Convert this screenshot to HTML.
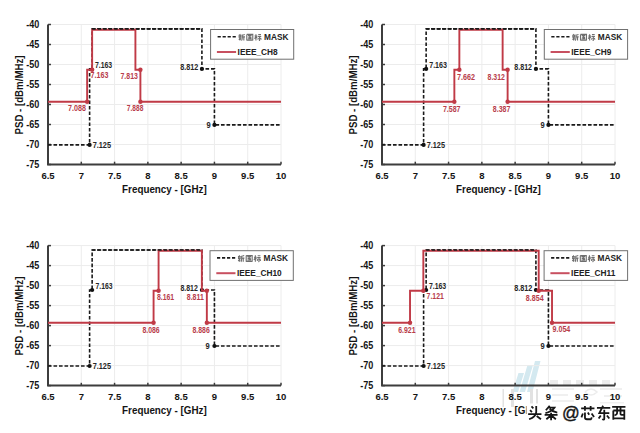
<!DOCTYPE html><html><head><meta charset="utf-8"><style>html,body{margin:0;padding:0;background:#fff;width:640px;height:433px;overflow:hidden}svg{display:block}text{font-family:"Liberation Sans", sans-serif}</style></head><body>
<svg width="640" height="433" viewBox="0 0 640 433">
<rect width="640" height="433" fill="#fff"/>
<g>
<path d="M512.5 392 L518 392 L524 373 L518.5 373Z M519.5 392 L525 392 L533 365 L527.5 365Z M527 392 L532.5 392 L540.5 361 L535 361Z" fill="#d4e9f0"/>
<path d="M502.5 389 H504 V407 H502.5Z M511 389 H514 V407 H511Z M530 389 H533 V407 H530Z M536 389 H538 V407 H536Z" fill="#e2e2e2"/>
<path d="M550 380 h8 v5 h-8z M563 380 h8 v5 h-8z M576 380 h8 v5 h-8z M589 380 h8 v5 h-8z M602 380 h8 v5 h-8z" fill="#ececec"/>
<path d="M552 389 h22 M552 395 h16 M552 401 h22 M585 392 q6 -6 12 0 q-6 6 -12 0 M600 389 h22 M604 396 h18 M600 403 h24" fill="none" stroke="#ececec" stroke-width="1.6"/>
</g>
<line x1="81.29" y1="24.5" x2="81.29" y2="164.5" stroke="#ececec" stroke-width="1"/>
<line x1="114.57" y1="24.5" x2="114.57" y2="164.5" stroke="#ececec" stroke-width="1"/>
<line x1="147.86" y1="24.5" x2="147.86" y2="164.5" stroke="#ececec" stroke-width="1"/>
<line x1="181.14" y1="24.5" x2="181.14" y2="164.5" stroke="#ececec" stroke-width="1"/>
<line x1="214.43" y1="24.5" x2="214.43" y2="164.5" stroke="#ececec" stroke-width="1"/>
<line x1="247.71" y1="24.5" x2="247.71" y2="164.5" stroke="#ececec" stroke-width="1"/>
<line x1="281" y1="24.5" x2="281" y2="164.5" stroke="#ececec" stroke-width="1"/>
<line x1="48" y1="24.5" x2="281" y2="24.5" stroke="#ececec" stroke-width="1"/>
<line x1="48" y1="44.5" x2="281" y2="44.5" stroke="#ececec" stroke-width="1"/>
<line x1="48" y1="64.5" x2="281" y2="64.5" stroke="#ececec" stroke-width="1"/>
<line x1="48" y1="84.5" x2="281" y2="84.5" stroke="#ececec" stroke-width="1"/>
<line x1="48" y1="104.5" x2="281" y2="104.5" stroke="#ececec" stroke-width="1"/>
<line x1="48" y1="124.5" x2="281" y2="124.5" stroke="#ececec" stroke-width="1"/>
<line x1="48" y1="144.5" x2="281" y2="144.5" stroke="#ececec" stroke-width="1"/>
<path d="M48 24.5 V164.5 H281" fill="none" stroke="#3d3d3d" stroke-width="2"/>
<line x1="48" y1="164.5" x2="48" y2="161.7" stroke="#3d3d3d" stroke-width="1.5"/>
<line x1="48" y1="24.5" x2="51" y2="24.5" stroke="#3d3d3d" stroke-width="1.5"/>
<line x1="81.29" y1="164.5" x2="81.29" y2="161.7" stroke="#3d3d3d" stroke-width="1.5"/>
<line x1="48" y1="44.5" x2="51" y2="44.5" stroke="#3d3d3d" stroke-width="1.5"/>
<line x1="114.57" y1="164.5" x2="114.57" y2="161.7" stroke="#3d3d3d" stroke-width="1.5"/>
<line x1="48" y1="64.5" x2="51" y2="64.5" stroke="#3d3d3d" stroke-width="1.5"/>
<line x1="147.86" y1="164.5" x2="147.86" y2="161.7" stroke="#3d3d3d" stroke-width="1.5"/>
<line x1="48" y1="84.5" x2="51" y2="84.5" stroke="#3d3d3d" stroke-width="1.5"/>
<line x1="181.14" y1="164.5" x2="181.14" y2="161.7" stroke="#3d3d3d" stroke-width="1.5"/>
<line x1="48" y1="104.5" x2="51" y2="104.5" stroke="#3d3d3d" stroke-width="1.5"/>
<line x1="214.43" y1="164.5" x2="214.43" y2="161.7" stroke="#3d3d3d" stroke-width="1.5"/>
<line x1="48" y1="124.5" x2="51" y2="124.5" stroke="#3d3d3d" stroke-width="1.5"/>
<line x1="247.71" y1="164.5" x2="247.71" y2="161.7" stroke="#3d3d3d" stroke-width="1.5"/>
<line x1="48" y1="144.5" x2="51" y2="144.5" stroke="#3d3d3d" stroke-width="1.5"/>
<line x1="281" y1="164.5" x2="281" y2="161.7" stroke="#3d3d3d" stroke-width="1.5"/>
<line x1="48" y1="164.5" x2="51" y2="164.5" stroke="#3d3d3d" stroke-width="1.5"/>
<text x="26.2" y="28" font-size="10.2" font-weight="bold" fill="#141414" textLength="13.1" lengthAdjust="spacingAndGlyphs">-40</text>
<text x="48" y="179.3" font-size="9.5" font-weight="bold" fill="#141414" text-anchor="middle">6.5</text>
<text x="26.2" y="48" font-size="10.2" font-weight="bold" fill="#141414" textLength="13.1" lengthAdjust="spacingAndGlyphs">-45</text>
<text x="81.29" y="179.3" font-size="9.5" font-weight="bold" fill="#141414" text-anchor="middle">7</text>
<text x="26.2" y="68" font-size="10.2" font-weight="bold" fill="#141414" textLength="13.1" lengthAdjust="spacingAndGlyphs">-50</text>
<text x="114.57" y="179.3" font-size="9.5" font-weight="bold" fill="#141414" text-anchor="middle">7.5</text>
<text x="26.2" y="88" font-size="10.2" font-weight="bold" fill="#141414" textLength="13.1" lengthAdjust="spacingAndGlyphs">-55</text>
<text x="147.86" y="179.3" font-size="9.5" font-weight="bold" fill="#141414" text-anchor="middle">8</text>
<text x="26.2" y="108" font-size="10.2" font-weight="bold" fill="#141414" textLength="13.1" lengthAdjust="spacingAndGlyphs">-60</text>
<text x="181.14" y="179.3" font-size="9.5" font-weight="bold" fill="#141414" text-anchor="middle">8.5</text>
<text x="26.2" y="128" font-size="10.2" font-weight="bold" fill="#141414" textLength="13.1" lengthAdjust="spacingAndGlyphs">-65</text>
<text x="214.43" y="179.3" font-size="9.5" font-weight="bold" fill="#141414" text-anchor="middle">9</text>
<text x="26.2" y="148" font-size="10.2" font-weight="bold" fill="#141414" textLength="13.1" lengthAdjust="spacingAndGlyphs">-70</text>
<text x="247.71" y="179.3" font-size="9.5" font-weight="bold" fill="#141414" text-anchor="middle">9.5</text>
<text x="26.2" y="168" font-size="10.2" font-weight="bold" fill="#141414" textLength="13.1" lengthAdjust="spacingAndGlyphs">-75</text>
<text x="281" y="179.3" font-size="9.5" font-weight="bold" fill="#141414" text-anchor="middle">10</text>
<text x="122.1" y="193.2" font-size="10.4" font-weight="bold" fill="#141414" textLength="84.6" lengthAdjust="spacingAndGlyphs">Frequency - [GHz]</text>
<text transform="translate(23 134.5) rotate(-90)" font-size="10.4" font-weight="bold" fill="#141414" textLength="79" lengthAdjust="spacingAndGlyphs">PSD - [dBm/MHz]</text>
<polyline points="48,144.9 89.61,144.9 89.61,68.9 92.14,68.9 92.14,28.9 201.91,28.9 201.91,68.9 214.43,68.9 214.43,124.9 281,124.9" fill="none" stroke="#1a1a1a" stroke-width="1.6" stroke-dasharray="3.6 1.9"/>
<circle cx="89.61" cy="144.9" r="2.1" fill="#111"/>
<circle cx="201.91" cy="68.9" r="2.1" fill="#111"/>
<circle cx="214.43" cy="124.9" r="2.1" fill="#111"/>
<polyline points="48,101.7 87.14,101.7 87.14,69.7 92.14,69.7 92.14,29.7 135.41,29.7 135.41,69.7 140.4,69.7 140.4,101.7 281,101.7" fill="none" stroke="#c03a46" stroke-width="1.9" stroke-linejoin="miter"/>
<circle cx="87.14" cy="101.7" r="2.2" fill="#c03a46"/>
<circle cx="92.14" cy="69.7" r="2.2" fill="#c03a46"/>
<circle cx="140.4" cy="69.7" r="2.2" fill="#c03a46"/>
<circle cx="140.4" cy="101.7" r="2.2" fill="#c03a46"/>
<line x1="92.14" y1="28.9" x2="201.91" y2="28.9" stroke="#1a1a1a" stroke-width="1.6" stroke-dasharray="3.6 1.9"/>
<text x="90.6" y="78.4" font-size="8.6" font-weight="bold" fill="#b83c4a" textLength="17.8" lengthAdjust="spacingAndGlyphs">7.163</text>
<text x="120.5" y="78.6" font-size="8.6" font-weight="bold" fill="#b83c4a" textLength="17.4" lengthAdjust="spacingAndGlyphs">7.813</text>
<text x="68.1" y="110.9" font-size="8.6" font-weight="bold" fill="#b83c4a" textLength="17.9" lengthAdjust="spacingAndGlyphs">7.088</text>
<text x="126.8" y="110.7" font-size="8.6" font-weight="bold" fill="#b83c4a" textLength="16.6" lengthAdjust="spacingAndGlyphs">7.888</text>
<text x="95" y="67.7" font-size="8.6" font-weight="bold" fill="#262626" textLength="17.2" lengthAdjust="spacingAndGlyphs">7.163</text>
<text x="180.2" y="70.1" font-size="8.6" font-weight="bold" fill="#262626" textLength="18" lengthAdjust="spacingAndGlyphs">8.812</text>
<text x="206.5" y="128.1" font-size="8.6" font-weight="bold" fill="#262626" textLength="4.2" lengthAdjust="spacingAndGlyphs">9</text>
<text x="92.7" y="147.9" font-size="8.6" font-weight="bold" fill="#262626" textLength="18.3" lengthAdjust="spacingAndGlyphs">7.125</text>
<rect x="210.6" y="29.5" width="83.1" height="29.7" fill="#fff" stroke="#707070" stroke-width="1"/>
<line x1="217.6" y1="36.7" x2="237.1" y2="36.7" stroke="#1a1a1a" stroke-width="1.6" stroke-dasharray="3.2 1.8"/>
<path transform="translate(238.1 33.7) scale(0.46)" d="M3.5 1L4.5 2.5M1 3.5H7M2 4.5L2.8 6.5M6 4.5L5.2 6.5M1 7.5H7M4 7.5V15M4 10L1.5 13M4 10L6.5 12M14.5 1.5Q11 3 9 3V9Q9 13 7.5 15M9 7H15M12.5 7V15" fill="none" stroke="#6e6e6e" stroke-width="2.41" stroke-linecap="butt" stroke-linejoin="miter"/>
<path transform="translate(246.1 33.7) scale(0.46)" d="M1.5 1.5V15M1.5 1.5H14.5V15M1.5 14H14.5M4 4H12M4.5 7.5H11.5M4 11H12M8 4V11M10 8.5L11 10" fill="none" stroke="#6e6e6e" stroke-width="2.41" stroke-linecap="butt" stroke-linejoin="miter"/>
<path transform="translate(254.1 33.7) scale(0.46)" d="M1 5H7M4 1V15M4 6L1 11M4.5 7L6.5 9M9 2H15M8 6H15.5M12 6V14Q12 15 10.5 14.5M9.5 9L8 13M14 9L15.5 13" fill="none" stroke="#6e6e6e" stroke-width="2.41" stroke-linecap="butt" stroke-linejoin="miter"/>
<text x="264.1" y="39.6" font-size="8.3" font-weight="bold" fill="#222">MASK</text>
<line x1="216.9" y1="52" x2="236.1" y2="52" stroke="#c85060" stroke-width="2"/>
<text x="237.6" y="55.1" font-size="8.3" font-weight="bold" fill="#222">IEEE_CH8</text>
<line x1="415.29" y1="24.5" x2="415.29" y2="164.5" stroke="#ececec" stroke-width="1"/>
<line x1="448.57" y1="24.5" x2="448.57" y2="164.5" stroke="#ececec" stroke-width="1"/>
<line x1="481.86" y1="24.5" x2="481.86" y2="164.5" stroke="#ececec" stroke-width="1"/>
<line x1="515.14" y1="24.5" x2="515.14" y2="164.5" stroke="#ececec" stroke-width="1"/>
<line x1="548.43" y1="24.5" x2="548.43" y2="164.5" stroke="#ececec" stroke-width="1"/>
<line x1="581.71" y1="24.5" x2="581.71" y2="164.5" stroke="#ececec" stroke-width="1"/>
<line x1="615" y1="24.5" x2="615" y2="164.5" stroke="#ececec" stroke-width="1"/>
<line x1="382" y1="24.5" x2="615" y2="24.5" stroke="#ececec" stroke-width="1"/>
<line x1="382" y1="44.5" x2="615" y2="44.5" stroke="#ececec" stroke-width="1"/>
<line x1="382" y1="64.5" x2="615" y2="64.5" stroke="#ececec" stroke-width="1"/>
<line x1="382" y1="84.5" x2="615" y2="84.5" stroke="#ececec" stroke-width="1"/>
<line x1="382" y1="104.5" x2="615" y2="104.5" stroke="#ececec" stroke-width="1"/>
<line x1="382" y1="124.5" x2="615" y2="124.5" stroke="#ececec" stroke-width="1"/>
<line x1="382" y1="144.5" x2="615" y2="144.5" stroke="#ececec" stroke-width="1"/>
<path d="M382 24.5 V164.5 H615" fill="none" stroke="#3d3d3d" stroke-width="2"/>
<line x1="382" y1="164.5" x2="382" y2="161.7" stroke="#3d3d3d" stroke-width="1.5"/>
<line x1="382" y1="24.5" x2="385" y2="24.5" stroke="#3d3d3d" stroke-width="1.5"/>
<line x1="415.29" y1="164.5" x2="415.29" y2="161.7" stroke="#3d3d3d" stroke-width="1.5"/>
<line x1="382" y1="44.5" x2="385" y2="44.5" stroke="#3d3d3d" stroke-width="1.5"/>
<line x1="448.57" y1="164.5" x2="448.57" y2="161.7" stroke="#3d3d3d" stroke-width="1.5"/>
<line x1="382" y1="64.5" x2="385" y2="64.5" stroke="#3d3d3d" stroke-width="1.5"/>
<line x1="481.86" y1="164.5" x2="481.86" y2="161.7" stroke="#3d3d3d" stroke-width="1.5"/>
<line x1="382" y1="84.5" x2="385" y2="84.5" stroke="#3d3d3d" stroke-width="1.5"/>
<line x1="515.14" y1="164.5" x2="515.14" y2="161.7" stroke="#3d3d3d" stroke-width="1.5"/>
<line x1="382" y1="104.5" x2="385" y2="104.5" stroke="#3d3d3d" stroke-width="1.5"/>
<line x1="548.43" y1="164.5" x2="548.43" y2="161.7" stroke="#3d3d3d" stroke-width="1.5"/>
<line x1="382" y1="124.5" x2="385" y2="124.5" stroke="#3d3d3d" stroke-width="1.5"/>
<line x1="581.71" y1="164.5" x2="581.71" y2="161.7" stroke="#3d3d3d" stroke-width="1.5"/>
<line x1="382" y1="144.5" x2="385" y2="144.5" stroke="#3d3d3d" stroke-width="1.5"/>
<line x1="615" y1="164.5" x2="615" y2="161.7" stroke="#3d3d3d" stroke-width="1.5"/>
<line x1="382" y1="164.5" x2="385" y2="164.5" stroke="#3d3d3d" stroke-width="1.5"/>
<text x="360.2" y="28" font-size="10.2" font-weight="bold" fill="#141414" textLength="13.1" lengthAdjust="spacingAndGlyphs">-40</text>
<text x="382" y="179.3" font-size="9.5" font-weight="bold" fill="#141414" text-anchor="middle">6.5</text>
<text x="360.2" y="48" font-size="10.2" font-weight="bold" fill="#141414" textLength="13.1" lengthAdjust="spacingAndGlyphs">-45</text>
<text x="415.29" y="179.3" font-size="9.5" font-weight="bold" fill="#141414" text-anchor="middle">7</text>
<text x="360.2" y="68" font-size="10.2" font-weight="bold" fill="#141414" textLength="13.1" lengthAdjust="spacingAndGlyphs">-50</text>
<text x="448.57" y="179.3" font-size="9.5" font-weight="bold" fill="#141414" text-anchor="middle">7.5</text>
<text x="360.2" y="88" font-size="10.2" font-weight="bold" fill="#141414" textLength="13.1" lengthAdjust="spacingAndGlyphs">-55</text>
<text x="481.86" y="179.3" font-size="9.5" font-weight="bold" fill="#141414" text-anchor="middle">8</text>
<text x="360.2" y="108" font-size="10.2" font-weight="bold" fill="#141414" textLength="13.1" lengthAdjust="spacingAndGlyphs">-60</text>
<text x="515.14" y="179.3" font-size="9.5" font-weight="bold" fill="#141414" text-anchor="middle">8.5</text>
<text x="360.2" y="128" font-size="10.2" font-weight="bold" fill="#141414" textLength="13.1" lengthAdjust="spacingAndGlyphs">-65</text>
<text x="548.43" y="179.3" font-size="9.5" font-weight="bold" fill="#141414" text-anchor="middle">9</text>
<text x="360.2" y="148" font-size="10.2" font-weight="bold" fill="#141414" textLength="13.1" lengthAdjust="spacingAndGlyphs">-70</text>
<text x="581.71" y="179.3" font-size="9.5" font-weight="bold" fill="#141414" text-anchor="middle">9.5</text>
<text x="360.2" y="168" font-size="10.2" font-weight="bold" fill="#141414" textLength="13.1" lengthAdjust="spacingAndGlyphs">-75</text>
<text x="615" y="179.3" font-size="9.5" font-weight="bold" fill="#141414" text-anchor="middle">10</text>
<text x="456.1" y="193.2" font-size="10.4" font-weight="bold" fill="#141414" textLength="84.6" lengthAdjust="spacingAndGlyphs">Frequency - [GHz]</text>
<text transform="translate(357 134.5) rotate(-90)" font-size="10.4" font-weight="bold" fill="#141414" textLength="79" lengthAdjust="spacingAndGlyphs">PSD - [dBm/MHz]</text>
<polyline points="382,144.9 423.61,144.9 423.61,68.9 426.14,68.9 426.14,28.9 535.91,28.9 535.91,68.9 548.43,68.9 548.43,124.9 615,124.9" fill="none" stroke="#1a1a1a" stroke-width="1.6" stroke-dasharray="3.6 1.9"/>
<circle cx="423.61" cy="144.9" r="2.1" fill="#111"/>
<circle cx="426.14" cy="68.9" r="2.1" fill="#111"/>
<circle cx="535.91" cy="68.9" r="2.1" fill="#111"/>
<circle cx="548.43" cy="124.9" r="2.1" fill="#111"/>
<polyline points="382,101.7 454.36,101.7 454.36,69.7 459.36,69.7 459.36,29.7 502.63,29.7 502.63,69.7 507.62,69.7 507.62,101.7 615,101.7" fill="none" stroke="#c03a46" stroke-width="1.9" stroke-linejoin="miter"/>
<circle cx="454.36" cy="101.7" r="2.2" fill="#c03a46"/>
<circle cx="459.36" cy="69.7" r="2.2" fill="#c03a46"/>
<circle cx="507.62" cy="69.7" r="2.2" fill="#c03a46"/>
<circle cx="507.62" cy="101.7" r="2.2" fill="#c03a46"/>
<line x1="426.14" y1="28.9" x2="535.91" y2="28.9" stroke="#1a1a1a" stroke-width="1.6" stroke-dasharray="3.6 1.9"/>
<text x="457" y="79.5" font-size="8.6" font-weight="bold" fill="#b83c4a" textLength="18" lengthAdjust="spacingAndGlyphs">7.662</text>
<text x="487.6" y="79.5" font-size="8.6" font-weight="bold" fill="#b83c4a" textLength="17.3" lengthAdjust="spacingAndGlyphs">8.312</text>
<text x="442.9" y="111.6" font-size="8.6" font-weight="bold" fill="#b83c4a" textLength="17.6" lengthAdjust="spacingAndGlyphs">7.587</text>
<text x="492.8" y="111.6" font-size="8.6" font-weight="bold" fill="#b83c4a" textLength="17.5" lengthAdjust="spacingAndGlyphs">8.387</text>
<text x="429.2" y="68.1" font-size="8.6" font-weight="bold" fill="#262626" textLength="17.8" lengthAdjust="spacingAndGlyphs">7.163</text>
<text x="514.3" y="70.1" font-size="8.6" font-weight="bold" fill="#262626" textLength="17.7" lengthAdjust="spacingAndGlyphs">8.812</text>
<text x="540.5" y="128.1" font-size="8.6" font-weight="bold" fill="#262626" textLength="4.2" lengthAdjust="spacingAndGlyphs">9</text>
<text x="426.7" y="147.9" font-size="8.6" font-weight="bold" fill="#262626" textLength="18.3" lengthAdjust="spacingAndGlyphs">7.125</text>
<rect x="544.3" y="29.5" width="83.3" height="29.7" fill="#fff" stroke="#707070" stroke-width="1"/>
<line x1="551.3" y1="36.7" x2="570.8" y2="36.7" stroke="#1a1a1a" stroke-width="1.6" stroke-dasharray="3.2 1.8"/>
<path transform="translate(571.8 33.7) scale(0.46)" d="M3.5 1L4.5 2.5M1 3.5H7M2 4.5L2.8 6.5M6 4.5L5.2 6.5M1 7.5H7M4 7.5V15M4 10L1.5 13M4 10L6.5 12M14.5 1.5Q11 3 9 3V9Q9 13 7.5 15M9 7H15M12.5 7V15" fill="none" stroke="#6e6e6e" stroke-width="2.41" stroke-linecap="butt" stroke-linejoin="miter"/>
<path transform="translate(579.8 33.7) scale(0.46)" d="M1.5 1.5V15M1.5 1.5H14.5V15M1.5 14H14.5M4 4H12M4.5 7.5H11.5M4 11H12M8 4V11M10 8.5L11 10" fill="none" stroke="#6e6e6e" stroke-width="2.41" stroke-linecap="butt" stroke-linejoin="miter"/>
<path transform="translate(587.8 33.7) scale(0.46)" d="M1 5H7M4 1V15M4 6L1 11M4.5 7L6.5 9M9 2H15M8 6H15.5M12 6V14Q12 15 10.5 14.5M9.5 9L8 13M14 9L15.5 13" fill="none" stroke="#6e6e6e" stroke-width="2.41" stroke-linecap="butt" stroke-linejoin="miter"/>
<text x="597.8" y="39.6" font-size="8.3" font-weight="bold" fill="#222">MASK</text>
<line x1="550.6" y1="52" x2="569.8" y2="52" stroke="#c85060" stroke-width="2"/>
<text x="571.3" y="55.1" font-size="8.3" font-weight="bold" fill="#222">IEEE_CH9</text>
<line x1="81.29" y1="245.6" x2="81.29" y2="385.6" stroke="#ececec" stroke-width="1"/>
<line x1="114.57" y1="245.6" x2="114.57" y2="385.6" stroke="#ececec" stroke-width="1"/>
<line x1="147.86" y1="245.6" x2="147.86" y2="385.6" stroke="#ececec" stroke-width="1"/>
<line x1="181.14" y1="245.6" x2="181.14" y2="385.6" stroke="#ececec" stroke-width="1"/>
<line x1="214.43" y1="245.6" x2="214.43" y2="385.6" stroke="#ececec" stroke-width="1"/>
<line x1="247.71" y1="245.6" x2="247.71" y2="385.6" stroke="#ececec" stroke-width="1"/>
<line x1="281" y1="245.6" x2="281" y2="385.6" stroke="#ececec" stroke-width="1"/>
<line x1="48" y1="245.6" x2="281" y2="245.6" stroke="#ececec" stroke-width="1"/>
<line x1="48" y1="265.6" x2="281" y2="265.6" stroke="#ececec" stroke-width="1"/>
<line x1="48" y1="285.6" x2="281" y2="285.6" stroke="#ececec" stroke-width="1"/>
<line x1="48" y1="305.6" x2="281" y2="305.6" stroke="#ececec" stroke-width="1"/>
<line x1="48" y1="325.6" x2="281" y2="325.6" stroke="#ececec" stroke-width="1"/>
<line x1="48" y1="345.6" x2="281" y2="345.6" stroke="#ececec" stroke-width="1"/>
<line x1="48" y1="365.6" x2="281" y2="365.6" stroke="#ececec" stroke-width="1"/>
<path d="M48 245.6 V385.6 H281" fill="none" stroke="#3d3d3d" stroke-width="2"/>
<line x1="48" y1="385.6" x2="48" y2="382.8" stroke="#3d3d3d" stroke-width="1.5"/>
<line x1="48" y1="245.6" x2="51" y2="245.6" stroke="#3d3d3d" stroke-width="1.5"/>
<line x1="81.29" y1="385.6" x2="81.29" y2="382.8" stroke="#3d3d3d" stroke-width="1.5"/>
<line x1="48" y1="265.6" x2="51" y2="265.6" stroke="#3d3d3d" stroke-width="1.5"/>
<line x1="114.57" y1="385.6" x2="114.57" y2="382.8" stroke="#3d3d3d" stroke-width="1.5"/>
<line x1="48" y1="285.6" x2="51" y2="285.6" stroke="#3d3d3d" stroke-width="1.5"/>
<line x1="147.86" y1="385.6" x2="147.86" y2="382.8" stroke="#3d3d3d" stroke-width="1.5"/>
<line x1="48" y1="305.6" x2="51" y2="305.6" stroke="#3d3d3d" stroke-width="1.5"/>
<line x1="181.14" y1="385.6" x2="181.14" y2="382.8" stroke="#3d3d3d" stroke-width="1.5"/>
<line x1="48" y1="325.6" x2="51" y2="325.6" stroke="#3d3d3d" stroke-width="1.5"/>
<line x1="214.43" y1="385.6" x2="214.43" y2="382.8" stroke="#3d3d3d" stroke-width="1.5"/>
<line x1="48" y1="345.6" x2="51" y2="345.6" stroke="#3d3d3d" stroke-width="1.5"/>
<line x1="247.71" y1="385.6" x2="247.71" y2="382.8" stroke="#3d3d3d" stroke-width="1.5"/>
<line x1="48" y1="365.6" x2="51" y2="365.6" stroke="#3d3d3d" stroke-width="1.5"/>
<line x1="281" y1="385.6" x2="281" y2="382.8" stroke="#3d3d3d" stroke-width="1.5"/>
<line x1="48" y1="385.6" x2="51" y2="385.6" stroke="#3d3d3d" stroke-width="1.5"/>
<text x="26.2" y="249.1" font-size="10.2" font-weight="bold" fill="#141414" textLength="13.1" lengthAdjust="spacingAndGlyphs">-40</text>
<text x="48" y="400.4" font-size="9.5" font-weight="bold" fill="#141414" text-anchor="middle">6.5</text>
<text x="26.2" y="269.1" font-size="10.2" font-weight="bold" fill="#141414" textLength="13.1" lengthAdjust="spacingAndGlyphs">-45</text>
<text x="81.29" y="400.4" font-size="9.5" font-weight="bold" fill="#141414" text-anchor="middle">7</text>
<text x="26.2" y="289.1" font-size="10.2" font-weight="bold" fill="#141414" textLength="13.1" lengthAdjust="spacingAndGlyphs">-50</text>
<text x="114.57" y="400.4" font-size="9.5" font-weight="bold" fill="#141414" text-anchor="middle">7.5</text>
<text x="26.2" y="309.1" font-size="10.2" font-weight="bold" fill="#141414" textLength="13.1" lengthAdjust="spacingAndGlyphs">-55</text>
<text x="147.86" y="400.4" font-size="9.5" font-weight="bold" fill="#141414" text-anchor="middle">8</text>
<text x="26.2" y="329.1" font-size="10.2" font-weight="bold" fill="#141414" textLength="13.1" lengthAdjust="spacingAndGlyphs">-60</text>
<text x="181.14" y="400.4" font-size="9.5" font-weight="bold" fill="#141414" text-anchor="middle">8.5</text>
<text x="26.2" y="349.1" font-size="10.2" font-weight="bold" fill="#141414" textLength="13.1" lengthAdjust="spacingAndGlyphs">-65</text>
<text x="214.43" y="400.4" font-size="9.5" font-weight="bold" fill="#141414" text-anchor="middle">9</text>
<text x="26.2" y="369.1" font-size="10.2" font-weight="bold" fill="#141414" textLength="13.1" lengthAdjust="spacingAndGlyphs">-70</text>
<text x="247.71" y="400.4" font-size="9.5" font-weight="bold" fill="#141414" text-anchor="middle">9.5</text>
<text x="26.2" y="389.1" font-size="10.2" font-weight="bold" fill="#141414" textLength="13.1" lengthAdjust="spacingAndGlyphs">-75</text>
<text x="281" y="400.4" font-size="9.5" font-weight="bold" fill="#141414" text-anchor="middle">10</text>
<text x="122.1" y="414.3" font-size="10.4" font-weight="bold" fill="#141414" textLength="84.6" lengthAdjust="spacingAndGlyphs">Frequency - [GHz]</text>
<text transform="translate(23 355.6) rotate(-90)" font-size="10.4" font-weight="bold" fill="#141414" textLength="79" lengthAdjust="spacingAndGlyphs">PSD - [dBm/MHz]</text>
<polyline points="48,366 89.61,366 89.61,290 92.14,290 92.14,250 201.91,250 201.91,290 214.43,290 214.43,346 281,346" fill="none" stroke="#1a1a1a" stroke-width="1.6" stroke-dasharray="3.6 1.9"/>
<circle cx="89.61" cy="366" r="2.1" fill="#111"/>
<circle cx="92.14" cy="290" r="2.1" fill="#111"/>
<circle cx="201.91" cy="290" r="2.1" fill="#111"/>
<circle cx="214.43" cy="346" r="2.1" fill="#111"/>
<polyline points="48,322.8 153.58,322.8 153.58,290.8 158.58,290.8 158.58,250.8 201.85,250.8 201.85,290.8 206.84,290.8 206.84,322.8 281,322.8" fill="none" stroke="#c03a46" stroke-width="1.9" stroke-linejoin="miter"/>
<circle cx="153.58" cy="322.8" r="2.2" fill="#c03a46"/>
<circle cx="158.58" cy="290.8" r="2.2" fill="#c03a46"/>
<circle cx="206.84" cy="290.8" r="2.2" fill="#c03a46"/>
<circle cx="206.84" cy="322.8" r="2.2" fill="#c03a46"/>
<line x1="92.14" y1="250" x2="201.91" y2="250" stroke="#1a1a1a" stroke-width="1.6" stroke-dasharray="3.6 1.9"/>
<text x="157" y="299.8" font-size="8.6" font-weight="bold" fill="#b83c4a" textLength="17.2" lengthAdjust="spacingAndGlyphs">8.161</text>
<text x="186.8" y="299.8" font-size="8.6" font-weight="bold" fill="#b83c4a" textLength="17" lengthAdjust="spacingAndGlyphs">8.811</text>
<text x="142.4" y="332.9" font-size="8.6" font-weight="bold" fill="#b83c4a" textLength="17.3" lengthAdjust="spacingAndGlyphs">8.086</text>
<text x="192.5" y="332.9" font-size="8.6" font-weight="bold" fill="#b83c4a" textLength="17.3" lengthAdjust="spacingAndGlyphs">8.886</text>
<text x="95.6" y="288.8" font-size="8.6" font-weight="bold" fill="#262626" textLength="17" lengthAdjust="spacingAndGlyphs">7.163</text>
<text x="180.4" y="290.5" font-size="8.6" font-weight="bold" fill="#262626" textLength="17.4" lengthAdjust="spacingAndGlyphs">8.812</text>
<text x="205.6" y="348.9" font-size="8.6" font-weight="bold" fill="#262626" textLength="4.2" lengthAdjust="spacingAndGlyphs">9</text>
<text x="92.7" y="369" font-size="8.6" font-weight="bold" fill="#262626" textLength="18.3" lengthAdjust="spacingAndGlyphs">7.125</text>
<rect x="210" y="250.7" width="83.3" height="29.7" fill="#fff" stroke="#707070" stroke-width="1"/>
<line x1="217" y1="257.9" x2="236.5" y2="257.9" stroke="#1a1a1a" stroke-width="1.6" stroke-dasharray="3.2 1.8"/>
<path transform="translate(237.5 254.9) scale(0.46)" d="M3.5 1L4.5 2.5M1 3.5H7M2 4.5L2.8 6.5M6 4.5L5.2 6.5M1 7.5H7M4 7.5V15M4 10L1.5 13M4 10L6.5 12M14.5 1.5Q11 3 9 3V9Q9 13 7.5 15M9 7H15M12.5 7V15" fill="none" stroke="#6e6e6e" stroke-width="2.41" stroke-linecap="butt" stroke-linejoin="miter"/>
<path transform="translate(245.5 254.9) scale(0.46)" d="M1.5 1.5V15M1.5 1.5H14.5V15M1.5 14H14.5M4 4H12M4.5 7.5H11.5M4 11H12M8 4V11M10 8.5L11 10" fill="none" stroke="#6e6e6e" stroke-width="2.41" stroke-linecap="butt" stroke-linejoin="miter"/>
<path transform="translate(253.5 254.9) scale(0.46)" d="M1 5H7M4 1V15M4 6L1 11M4.5 7L6.5 9M9 2H15M8 6H15.5M12 6V14Q12 15 10.5 14.5M9.5 9L8 13M14 9L15.5 13" fill="none" stroke="#6e6e6e" stroke-width="2.41" stroke-linecap="butt" stroke-linejoin="miter"/>
<text x="263.5" y="260.8" font-size="8.3" font-weight="bold" fill="#222">MASK</text>
<line x1="216.3" y1="273.2" x2="235.5" y2="273.2" stroke="#c85060" stroke-width="2"/>
<text x="237" y="276.3" font-size="8.3" font-weight="bold" fill="#222">IEEE_CH10</text>
<line x1="415.29" y1="245.6" x2="415.29" y2="385.6" stroke="#ececec" stroke-width="1"/>
<line x1="448.57" y1="245.6" x2="448.57" y2="385.6" stroke="#ececec" stroke-width="1"/>
<line x1="481.86" y1="245.6" x2="481.86" y2="385.6" stroke="#ececec" stroke-width="1"/>
<line x1="515.14" y1="245.6" x2="515.14" y2="385.6" stroke="#ececec" stroke-width="1"/>
<line x1="548.43" y1="245.6" x2="548.43" y2="385.6" stroke="#ececec" stroke-width="1"/>
<line x1="581.71" y1="245.6" x2="581.71" y2="385.6" stroke="#ececec" stroke-width="1"/>
<line x1="615" y1="245.6" x2="615" y2="385.6" stroke="#ececec" stroke-width="1"/>
<line x1="382" y1="245.6" x2="615" y2="245.6" stroke="#ececec" stroke-width="1"/>
<line x1="382" y1="265.6" x2="615" y2="265.6" stroke="#ececec" stroke-width="1"/>
<line x1="382" y1="285.6" x2="615" y2="285.6" stroke="#ececec" stroke-width="1"/>
<line x1="382" y1="305.6" x2="615" y2="305.6" stroke="#ececec" stroke-width="1"/>
<line x1="382" y1="325.6" x2="615" y2="325.6" stroke="#ececec" stroke-width="1"/>
<line x1="382" y1="345.6" x2="615" y2="345.6" stroke="#ececec" stroke-width="1"/>
<line x1="382" y1="365.6" x2="615" y2="365.6" stroke="#ececec" stroke-width="1"/>
<path d="M382 245.6 V385.6 H615" fill="none" stroke="#3d3d3d" stroke-width="2"/>
<line x1="382" y1="385.6" x2="382" y2="382.8" stroke="#3d3d3d" stroke-width="1.5"/>
<line x1="382" y1="245.6" x2="385" y2="245.6" stroke="#3d3d3d" stroke-width="1.5"/>
<line x1="415.29" y1="385.6" x2="415.29" y2="382.8" stroke="#3d3d3d" stroke-width="1.5"/>
<line x1="382" y1="265.6" x2="385" y2="265.6" stroke="#3d3d3d" stroke-width="1.5"/>
<line x1="448.57" y1="385.6" x2="448.57" y2="382.8" stroke="#3d3d3d" stroke-width="1.5"/>
<line x1="382" y1="285.6" x2="385" y2="285.6" stroke="#3d3d3d" stroke-width="1.5"/>
<line x1="481.86" y1="385.6" x2="481.86" y2="382.8" stroke="#3d3d3d" stroke-width="1.5"/>
<line x1="382" y1="305.6" x2="385" y2="305.6" stroke="#3d3d3d" stroke-width="1.5"/>
<line x1="515.14" y1="385.6" x2="515.14" y2="382.8" stroke="#3d3d3d" stroke-width="1.5"/>
<line x1="382" y1="325.6" x2="385" y2="325.6" stroke="#3d3d3d" stroke-width="1.5"/>
<line x1="548.43" y1="385.6" x2="548.43" y2="382.8" stroke="#3d3d3d" stroke-width="1.5"/>
<line x1="382" y1="345.6" x2="385" y2="345.6" stroke="#3d3d3d" stroke-width="1.5"/>
<line x1="581.71" y1="385.6" x2="581.71" y2="382.8" stroke="#3d3d3d" stroke-width="1.5"/>
<line x1="382" y1="365.6" x2="385" y2="365.6" stroke="#3d3d3d" stroke-width="1.5"/>
<line x1="615" y1="385.6" x2="615" y2="382.8" stroke="#3d3d3d" stroke-width="1.5"/>
<line x1="382" y1="385.6" x2="385" y2="385.6" stroke="#3d3d3d" stroke-width="1.5"/>
<text x="360.2" y="249.1" font-size="10.2" font-weight="bold" fill="#141414" textLength="13.1" lengthAdjust="spacingAndGlyphs">-40</text>
<text x="382" y="400.4" font-size="9.5" font-weight="bold" fill="#141414" text-anchor="middle">6.5</text>
<text x="360.2" y="269.1" font-size="10.2" font-weight="bold" fill="#141414" textLength="13.1" lengthAdjust="spacingAndGlyphs">-45</text>
<text x="415.29" y="400.4" font-size="9.5" font-weight="bold" fill="#141414" text-anchor="middle">7</text>
<text x="360.2" y="289.1" font-size="10.2" font-weight="bold" fill="#141414" textLength="13.1" lengthAdjust="spacingAndGlyphs">-50</text>
<text x="448.57" y="400.4" font-size="9.5" font-weight="bold" fill="#141414" text-anchor="middle">7.5</text>
<text x="360.2" y="309.1" font-size="10.2" font-weight="bold" fill="#141414" textLength="13.1" lengthAdjust="spacingAndGlyphs">-55</text>
<text x="481.86" y="400.4" font-size="9.5" font-weight="bold" fill="#141414" text-anchor="middle">8</text>
<text x="360.2" y="329.1" font-size="10.2" font-weight="bold" fill="#141414" textLength="13.1" lengthAdjust="spacingAndGlyphs">-60</text>
<text x="515.14" y="400.4" font-size="9.5" font-weight="bold" fill="#141414" text-anchor="middle">8.5</text>
<text x="360.2" y="349.1" font-size="10.2" font-weight="bold" fill="#141414" textLength="13.1" lengthAdjust="spacingAndGlyphs">-65</text>
<text x="548.43" y="400.4" font-size="9.5" font-weight="bold" fill="#141414" text-anchor="middle">9</text>
<text x="360.2" y="369.1" font-size="10.2" font-weight="bold" fill="#141414" textLength="13.1" lengthAdjust="spacingAndGlyphs">-70</text>
<text x="581.71" y="400.4" font-size="9.5" font-weight="bold" fill="#141414" text-anchor="middle">9.5</text>
<text x="360.2" y="389.1" font-size="10.2" font-weight="bold" fill="#141414" textLength="13.1" lengthAdjust="spacingAndGlyphs">-75</text>
<text x="615" y="400.4" font-size="9.5" font-weight="bold" fill="#141414" text-anchor="middle">10</text>
<text x="456.1" y="414.3" font-size="10.4" font-weight="bold" fill="#141414" textLength="84.6" lengthAdjust="spacingAndGlyphs">Frequency - [GHz]</text>
<text transform="translate(357 355.6) rotate(-90)" font-size="10.4" font-weight="bold" fill="#141414" textLength="79" lengthAdjust="spacingAndGlyphs">PSD - [dBm/MHz]</text>
<polyline points="382,366 423.61,366 423.61,290 426.14,290 426.14,250 535.91,250 535.91,290 548.43,290 548.43,346 615,346" fill="none" stroke="#1a1a1a" stroke-width="1.6" stroke-dasharray="3.6 1.9"/>
<circle cx="423.61" cy="366" r="2.1" fill="#111"/>
<circle cx="426.14" cy="290" r="2.1" fill="#111"/>
<circle cx="535.91" cy="290" r="2.1" fill="#111"/>
<circle cx="548.43" cy="346" r="2.1" fill="#111"/>
<polyline points="382,322.8 410.03,322.8 410.03,290.8 423.34,290.8 423.34,250.8 538.71,250.8 538.71,290.8 552.02,290.8 552.02,322.8 615,322.8" fill="none" stroke="#c03a46" stroke-width="1.9" stroke-linejoin="miter"/>
<circle cx="410.03" cy="322.8" r="2.2" fill="#c03a46"/>
<circle cx="423.34" cy="290.8" r="2.2" fill="#c03a46"/>
<circle cx="538.71" cy="290.8" r="2.2" fill="#c03a46"/>
<circle cx="552.02" cy="322.8" r="2.2" fill="#c03a46"/>
<line x1="426.14" y1="250" x2="535.91" y2="250" stroke="#1a1a1a" stroke-width="1.6" stroke-dasharray="3.6 1.9"/>
<text x="426.6" y="298.5" font-size="8.6" font-weight="bold" fill="#b83c4a" textLength="17.3" lengthAdjust="spacingAndGlyphs">7.121</text>
<text x="525.8" y="300.6" font-size="8.6" font-weight="bold" fill="#b83c4a" textLength="17.8" lengthAdjust="spacingAndGlyphs">8.854</text>
<text x="398.2" y="332.7" font-size="8.6" font-weight="bold" fill="#b83c4a" textLength="17.3" lengthAdjust="spacingAndGlyphs">6.921</text>
<text x="552.5" y="332.1" font-size="8.6" font-weight="bold" fill="#b83c4a" textLength="17.8" lengthAdjust="spacingAndGlyphs">9.054</text>
<text x="428.9" y="288.6" font-size="8.6" font-weight="bold" fill="#262626" textLength="17.3" lengthAdjust="spacingAndGlyphs">7.163</text>
<text x="514.2" y="290.5" font-size="8.6" font-weight="bold" fill="#262626" textLength="18.1" lengthAdjust="spacingAndGlyphs">8.812</text>
<text x="540.5" y="348.9" font-size="8.6" font-weight="bold" fill="#262626" textLength="4.2" lengthAdjust="spacingAndGlyphs">9</text>
<text x="426.7" y="369" font-size="8.6" font-weight="bold" fill="#262626" textLength="18.3" lengthAdjust="spacingAndGlyphs">7.125</text>
<rect x="544.1" y="250.7" width="83.5" height="29.7" fill="#fff" stroke="#707070" stroke-width="1"/>
<line x1="551.1" y1="257.9" x2="570.6" y2="257.9" stroke="#1a1a1a" stroke-width="1.6" stroke-dasharray="3.2 1.8"/>
<path transform="translate(571.6 254.9) scale(0.46)" d="M3.5 1L4.5 2.5M1 3.5H7M2 4.5L2.8 6.5M6 4.5L5.2 6.5M1 7.5H7M4 7.5V15M4 10L1.5 13M4 10L6.5 12M14.5 1.5Q11 3 9 3V9Q9 13 7.5 15M9 7H15M12.5 7V15" fill="none" stroke="#6e6e6e" stroke-width="2.41" stroke-linecap="butt" stroke-linejoin="miter"/>
<path transform="translate(579.6 254.9) scale(0.46)" d="M1.5 1.5V15M1.5 1.5H14.5V15M1.5 14H14.5M4 4H12M4.5 7.5H11.5M4 11H12M8 4V11M10 8.5L11 10" fill="none" stroke="#6e6e6e" stroke-width="2.41" stroke-linecap="butt" stroke-linejoin="miter"/>
<path transform="translate(587.6 254.9) scale(0.46)" d="M1 5H7M4 1V15M4 6L1 11M4.5 7L6.5 9M9 2H15M8 6H15.5M12 6V14Q12 15 10.5 14.5M9.5 9L8 13M14 9L15.5 13" fill="none" stroke="#6e6e6e" stroke-width="2.41" stroke-linecap="butt" stroke-linejoin="miter"/>
<text x="597.6" y="260.8" font-size="8.3" font-weight="bold" fill="#222">MASK</text>
<line x1="550.4" y1="273.2" x2="569.6" y2="273.2" stroke="#c85060" stroke-width="2"/>
<text x="571.1" y="276.3" font-size="8.3" font-weight="bold" fill="#222">IEEE_CH11</text>
<rect x="526.5" y="403.5" width="101" height="19" fill="#fff"/>
<path transform="translate(528.1 405.9) scale(0.95)" d="M4.5 1.5L6.5 3.5M3 5.5L5 7.5M1 9.5H15M9.5 1V7.5Q9 12.5 2 15M10 11.5L14.5 15" fill="none" stroke="#fff" stroke-width="4.21" stroke-linecap="butt" stroke-linejoin="miter"/>
<path transform="translate(544.4 405.9) scale(0.95)" d="M6.5 0.8L2.5 5.5M5.2 2.8H11.5Q8.5 7 2 8.5M6.5 4.2Q9.5 7 14.5 8M1.2 10.5H14.8M8 8.2V16M7.6 11L3 15M8.4 11L13 15" fill="none" stroke="#fff" stroke-width="4.21" stroke-linecap="butt" stroke-linejoin="miter"/>
<path transform="translate(581.1 405.9) scale(0.95)" d="M1 3.5H15M5 1V6M11 1V6M2.8 9L1.3 13M5 8V13.2Q5 15 7 15H11.5Q12 15 12 13M8 8L9.5 10.2M12 9L14.6 12.6" fill="none" stroke="#fff" stroke-width="4.21" stroke-linecap="butt" stroke-linejoin="miter"/>
<path transform="translate(596.9 405.9) scale(0.95)" d="M1 3H15M7.5 0.8L3.5 8.5H14M8.7 5V14.5Q8.7 16 6.5 15M5 11L2.8 14.2M11.5 11L14 14.2" fill="none" stroke="#fff" stroke-width="4.21" stroke-linecap="butt" stroke-linejoin="miter"/>
<path transform="translate(612.1 405.9) scale(0.95)" d="M1 2H15M2.2 5.8V15.5M2.2 5.8H13.8V15.5M2.2 14H13.8M6.2 2V8.5Q6 10.5 3.5 11M9.8 2V9.5Q9.8 10.5 13 10.5" fill="none" stroke="#fff" stroke-width="4.21" stroke-linecap="butt" stroke-linejoin="miter"/>
<text x="562.6" y="419.6" font-size="17.5" fill="#fff" stroke="#fff" stroke-width="3">@</text>
<path transform="translate(527.2 405) scale(0.95)" d="M4.5 1.5L6.5 3.5M3 5.5L5 7.5M1 9.5H15M9.5 1V7.5Q9 12.5 2 15M10 11.5L14.5 15" fill="none" stroke="#161616" stroke-width="1.89" stroke-linecap="butt" stroke-linejoin="miter"/>
<path transform="translate(543.5 405) scale(0.95)" d="M6.5 0.8L2.5 5.5M5.2 2.8H11.5Q8.5 7 2 8.5M6.5 4.2Q9.5 7 14.5 8M1.2 10.5H14.8M8 8.2V16M7.6 11L3 15M8.4 11L13 15" fill="none" stroke="#161616" stroke-width="1.89" stroke-linecap="butt" stroke-linejoin="miter"/>
<path transform="translate(580.2 405) scale(0.95)" d="M1 3.5H15M5 1V6M11 1V6M2.8 9L1.3 13M5 8V13.2Q5 15 7 15H11.5Q12 15 12 13M8 8L9.5 10.2M12 9L14.6 12.6" fill="none" stroke="#161616" stroke-width="1.89" stroke-linecap="butt" stroke-linejoin="miter"/>
<path transform="translate(596 405) scale(0.95)" d="M1 3H15M7.5 0.8L3.5 8.5H14M8.7 5V14.5Q8.7 16 6.5 15M5 11L2.8 14.2M11.5 11L14 14.2" fill="none" stroke="#161616" stroke-width="1.89" stroke-linecap="butt" stroke-linejoin="miter"/>
<path transform="translate(611.2 405) scale(0.95)" d="M1 2H15M2.2 5.8V15.5M2.2 5.8H13.8V15.5M2.2 14H13.8M6.2 2V8.5Q6 10.5 3.5 11M9.8 2V9.5Q9.8 10.5 13 10.5" fill="none" stroke="#161616" stroke-width="1.89" stroke-linecap="butt" stroke-linejoin="miter"/>
<text x="562" y="418.8" font-size="17.5" fill="#161616" stroke="#161616" stroke-width="0.4">@</text>
</svg></body></html>
